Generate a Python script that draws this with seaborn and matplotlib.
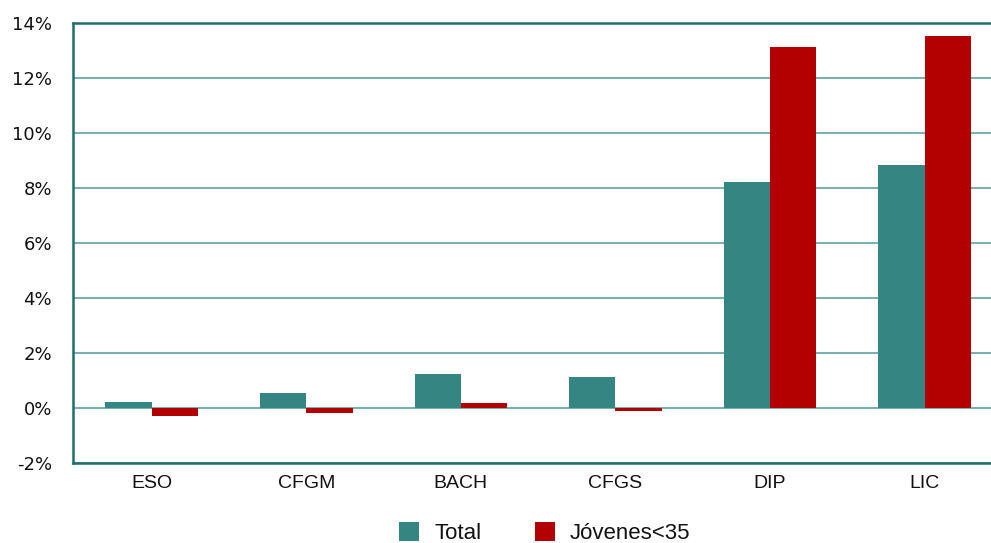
import matplotlib
matplotlib.use("Agg")
import matplotlib.pyplot as plt
from matplotlib.ticker import FuncFormatter, MultipleLocator
import seaborn as sns
import pandas as pd

# Variación por nivel de estudios (%)
niveles = ["ESO", "CFGM", "BACH", "CFGS", "DIP", "LIC"]
total = [0.23, 0.53, 1.24, 1.14, 8.22, 8.84]
jovenes = [-0.29, -0.18, 0.20, -0.10, 13.11, 13.52]
series = ["Total", "Jóvenes<35"]
colores = ["#358583", "#B30000"]

df = pd.DataFrame({
    "nivel": niveles * 2,
    "valor": total + jovenes,
    "serie": [series[0]] * len(niveles) + [series[1]] * len(niveles),
})

sns.set_theme(style="white")
plt.rcParams["font.family"] = ["Liberation Sans", "DejaVu Sans"]

fig = plt.figure(figsize=(9.91, 5.43), dpi=100)
ax = fig.add_axes([73 / 991, 1 - 463 / 543, 918 / 991, 440 / 543])

sns.barplot(data=df, x="nivel", y="valor", hue="serie", order=niveles,
            hue_order=series, palette=colores, width=0.6, saturation=1,
            linewidth=0, ax=ax, legend=True, zorder=3)

ax.set_ylim(-2, 14)
ax.set_xlim(-0.51, 5.43)
ax.yaxis.set_major_locator(MultipleLocator(2))
ax.yaxis.set_major_formatter(FuncFormatter(lambda v, _: f"{v:.0f}%"))
ax.grid(axis="y", color="#7AB0AE", linewidth=1.5, zorder=0)
ax.set_axisbelow(True)
ax.set_xlabel("")
ax.set_ylabel("")

for side in ("left", "bottom", "top"):
    ax.spines[side].set_color("#1F6E6A")
    ax.spines[side].set_linewidth(1.8)
ax.spines["right"].set_visible(False)

ax.tick_params(axis="y", length=0, pad=15, labelsize=13, labelcolor="#111111")
ax.tick_params(axis="x", length=0, pad=9, labelsize=14, labelcolor="#111111")
for lbl in ax.get_yticklabels():
    lbl.set_family(["DejaVu Sans"])

handles, labels = ax.get_legend_handles_labels()
ax.get_legend().remove()
fig.legend(handles, labels, loc="center", bbox_to_anchor=(0.55, 0.018),
           ncol=2, frameon=False, fontsize=16, handlelength=0.9,
           handleheight=0.9, handletextpad=0.68, columnspacing=2.4,
           labelcolor="#111111")

fig.savefig("out.png", dpi=100)
